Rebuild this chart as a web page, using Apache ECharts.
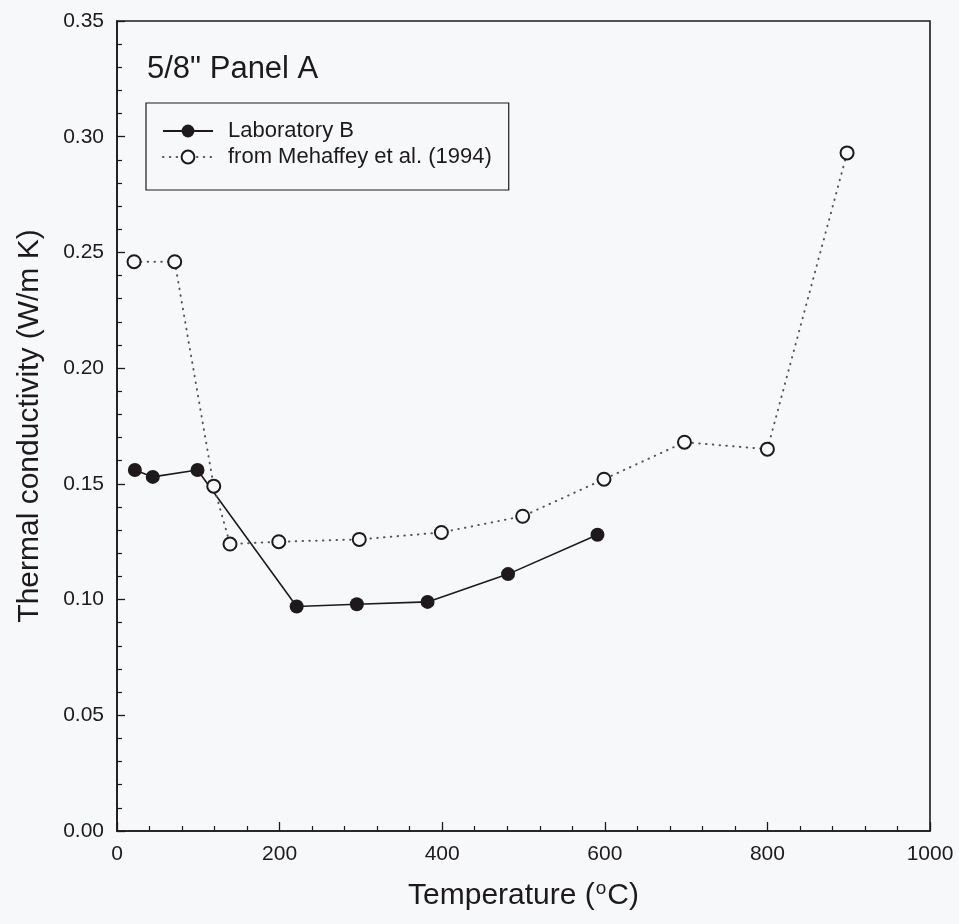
<!DOCTYPE html>
<html>
<head>
<meta charset="utf-8">
<script src="https://cdn.jsdelivr.net/npm/echarts@6/dist/echarts.min.js"></script>
<style>
html,body{margin:0;padding:0;background:#f7f8fa;}
#chart{width:959px;height:924px;}
</style>
</head>
<body>
<div id="chart"></div>
<script>
// Laboratory B
var labB_T = [22, 44, 99, 221, 295, 382, 481, 591];
var labB_k = [0.156, 0.153, 0.156, 0.097, 0.098, 0.099, 0.111, 0.128];
// from Mehaffey et al. (1994)
var meh_T = [21, 71, 119, 139, 199, 298, 399, 499, 599, 698, 800, 898];
var meh_k = [0.246, 0.246, 0.149, 0.124, 0.125, 0.126, 0.129, 0.136, 0.152, 0.168, 0.165, 0.293];
var seriesNames = ['Laboratory B', 'from Mehaffey et al. (1994)'];
var titleText = '5/8" Panel A';
var xName = 'Temperature ({sup|o}C)';
var yName = 'Thermal conductivity (W/m K)';

function pairs(xs, ys) { return xs.map(function (x, i) { return [x, ys[i]]; }); }

var FONT = '"Liberation Sans", Arial, sans-serif';
var INK = '#1e1a1c';
var BG = '#f7f8fa';

var chart = echarts.init(document.getElementById('chart'), null, {renderer: 'canvas'});
chart.setOption({
  backgroundColor: BG,
  animation: false,
  title: {
    text: titleText,
    left: 147,
    top: 54,
    padding: 0,
    textStyle: {fontFamily: FONT, fontSize: 31, fontWeight: 'normal', color: INK}
  },
  legend: {
    orient: 'vertical',
    left: 146,
    top: 103,
    padding: [17, 17, 22, 16],
    itemGap: 4,
    itemWidth: 50,
    itemHeight: 16,
    borderColor: INK,
    borderWidth: 1.2,
    data: seriesNames,
    textStyle: {fontFamily: FONT, fontSize: 22, color: INK, padding: [0, 0, 0, 10]}
  },
  grid: {
    left: 117, right: 29, top: 21, bottom: 93,
    show: true, borderColor: INK, borderWidth: 1.6, backgroundColor: 'transparent'
  },
  xAxis: {
    type: 'value',
    min: 0, max: 1000, interval: 200,
    name: xName,
    nameLocation: 'middle',
    nameGap: 48,
    nameTextStyle: {
      fontFamily: FONT, fontSize: 30, color: INK,
      rich: {sup: {fontFamily: FONT, fontSize: 19, color: INK, verticalAlign: 'top', padding: [0, 1, 14, 1]}}
    },
    axisLine: {show: true, lineStyle: {color: INK, width: 1.6}},
    axisTick: {show: true, inside: true, length: 9, lineStyle: {color: INK, width: 1.3}},
    minorTick: {show: true, splitNumber: 5, length: 5, lineStyle: {color: INK, width: 1.2}},
    splitLine: {show: false},
    axisLabel: {
      fontFamily: FONT, fontSize: 21, color: INK, margin: 13,
      formatter: function (v) { return String(v); }
    }
  },
  yAxis: {
    type: 'value',
    min: 0, max: 0.35, interval: 0.05,
    name: yName,
    nameLocation: 'middle',
    nameGap: 72,
    nameTextStyle: {fontFamily: FONT, fontSize: 30, color: INK},
    axisLine: {show: true, lineStyle: {color: INK, width: 1.6}},
    axisTick: {show: true, inside: true, length: 8, lineStyle: {color: INK, width: 1.3}},
    minorTick: {show: true, splitNumber: 5, length: 5, lineStyle: {color: INK, width: 1.2}},
    splitLine: {show: false},
    axisLabel: {
      fontFamily: FONT, fontSize: 21, color: INK, margin: 13,
      formatter: function (v) { return v.toFixed(2); }
    }
  },
  series: [
    {
      name: seriesNames[0],
      type: 'line',
      data: pairs(labB_T, labB_k),
      symbol: 'circle',
      symbolSize: 14,
      lineStyle: {color: INK, width: 1.6},
      itemStyle: {color: INK, borderColor: INK, borderWidth: 0},
      z: 2
    },
    {
      name: seriesNames[1],
      type: 'line',
      data: pairs(meh_T, meh_k),
      symbol: 'circle',
      symbolSize: 13,
      lineStyle: {color: '#555', width: 2, type: [0.5, 6.3], cap: 'round'},
      itemStyle: {color: BG, borderColor: INK, borderWidth: 2},
      z: 3
    }
  ]
});
</script>
</body>
</html>
